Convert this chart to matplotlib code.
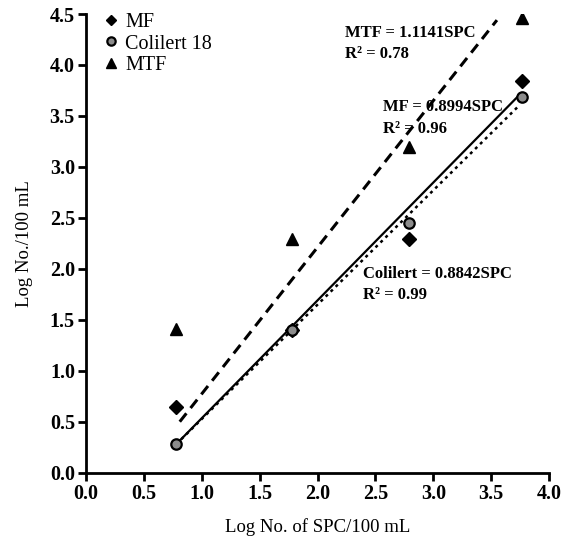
import matplotlib
matplotlib.use("Agg")
import matplotlib.pyplot as plt

plt.rcParams['font.family'] = ['Liberation Serif', 'DejaVu Serif']

# Data (log values)
spc = [0.78, 1.78, 2.79, 3.77]
mf = [0.64, 1.40, 2.29, 3.84]
colilert = [0.28, 1.40, 2.45, 3.69]
mtf = [1.41, 2.29, 3.20, 4.46]

# Trend lines (endpoints)
mtf_line_x = [0.81, 3.55]
mtf_line_y = [0.50, 4.44]
mf_line_x = [0.78, 3.73]
mf_line_y = [0.28, 3.69]
col_line_x = [0.78, 3.74]
col_line_y = [0.28, 3.60]

xticks = [0.0, 0.5, 1.0, 1.5, 2.0, 2.5, 3.0, 3.5, 4.0]
yticks = [0.0, 0.5, 1.0, 1.5, 2.0, 2.5, 3.0, 3.5, 4.0, 4.5]

fig = plt.figure(figsize=(5.65, 5.43), dpi=100)
ax = fig.add_axes([0.1522, 0.1295, 0.8195, 0.8447])

ax.plot(mtf_line_x, mtf_line_y, color='black', lw=2.2, ls=(0, (3.5, 2.2)), zorder=2)
ax.plot(mf_line_x, mf_line_y, color='black', lw=1.6, ls='-', zorder=2)
ax.plot(col_line_x, col_line_y, color='black', lw=1.8, ls=(0, (1.2, 1.6)), zorder=2)

ax.plot(spc, mf, ls='none', marker='D', ms=7, color='black', label='MF', zorder=3)
ax.plot(spc, colilert, ls='none', marker='o', ms=7.5, mfc='#8c8c8c', mec='black', mew=1.6,
        label='Colilert 18', zorder=4)
ax.plot(spc, mtf, ls='none', marker='^', ms=9, color='black', label='MTF', zorder=3)

ax.set_xlim(0, 4.0)
ax.set_ylim(0, 4.5)
ax.set_xticks(xticks)
ax.set_yticks(yticks)
ax.set_xticklabels([f"{t:.1f}" for t in xticks])
ax.set_yticklabels([f"{t:.1f}" for t in yticks])

for s in ['top', 'right']:
    ax.spines[s].set_visible(False)
for s in ['left', 'bottom']:
    ax.spines[s].set_linewidth(2)
ax.tick_params(direction='out', length=6, width=2, labelsize=14.5, pad=2)
for lab in ax.get_xticklabels() + ax.get_yticklabels():
    lab.set_fontweight('bold')

ax.set_xlabel('Log No. of SPC/100 mL', fontsize=13.5, labelpad=10)
ax.set_ylabel('Log No./100 mL', fontsize=13.5, labelpad=12)

leg = ax.legend(loc='upper left', bbox_to_anchor=(0.015, 1.02), frameon=False,
                fontsize=14.5, handletextpad=0.2, handlelength=1.0, labelspacing=0.12,
                borderaxespad=0, markerscale=0.8)

ann_kw = dict(fontsize=12, fontweight='bold', va='center', ha='left')
ax.text(2.24, 4.31, 'MTF = 1.1141SPC', **ann_kw)
ax.text(2.24, 4.11, 'R\u00b2 = 0.78', **ann_kw)
ax.text(2.57, 3.59, 'MF = 0.8994SPC', **ann_kw)
ax.text(2.57, 3.37, 'R\u00b2 = 0.96', **ann_kw)
ax.text(2.39, 1.95, 'Colilert = 0.8842SPC', **ann_kw)
ax.text(2.39, 1.74, 'R\u00b2 = 0.99', **ann_kw)

fig.savefig('out.png', dpi=100)
